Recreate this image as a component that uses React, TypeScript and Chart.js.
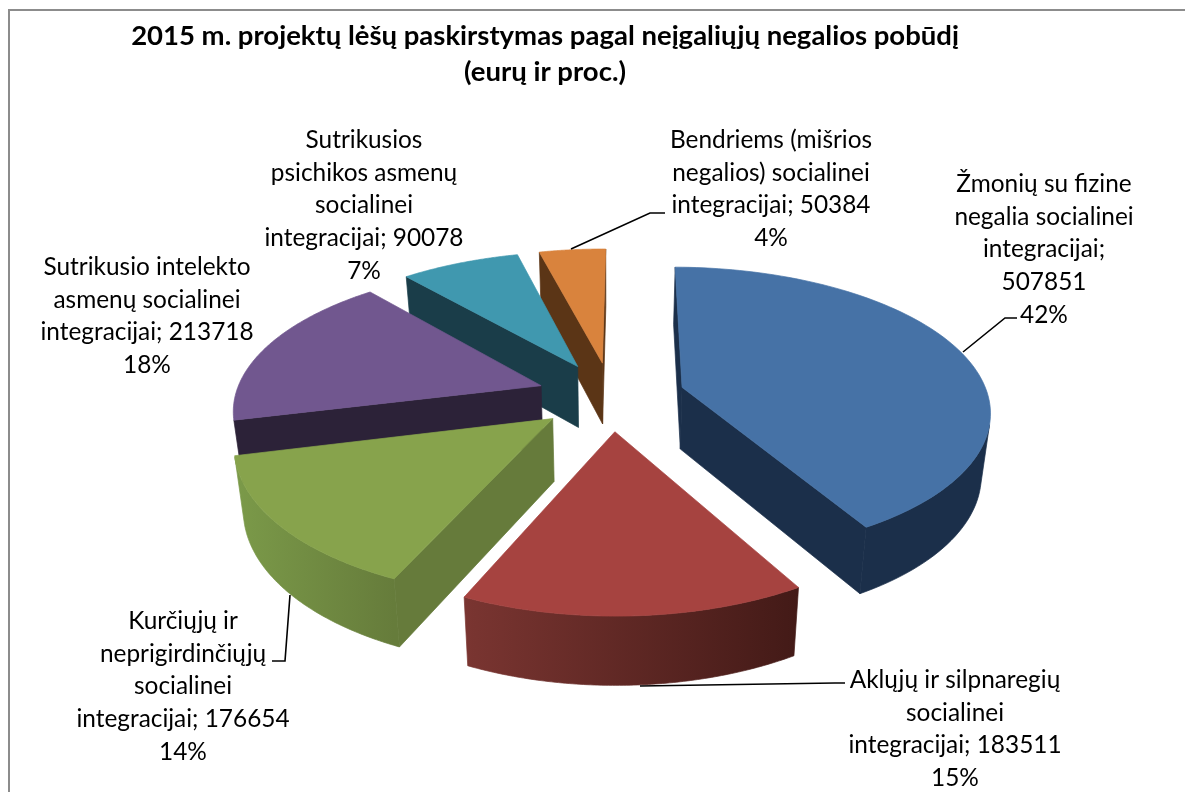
import React, { useEffect, useRef } from "react";
import { Chart, registerables } from "chart.js";

Chart.register(...registerables);

const categories = [
  "Žmonių su fizine negalia socialinei integracijai",
  "Aklųjų ir silpnaregių socialinei integracijai",
  "Kurčiųjų ir neprigirdinčiųjų socialinei integracijai",
  "Sutrikusio intelekto asmenų socialinei integracijai",
  "Sutrikusios psichikos asmenų socialinei integracijai",
  "Bendriems (mišrios negalios) socialinei integracijai",
];
const values = [507851, 183511, 176654, 213718, 90078, 50384];
const percents = ["42%", "15%", "14%", "18%", "7%", "4%"];
const titleLines = ["2015 m. projektų lėšų paskirstymas pagal neįgaliųjų negalios pobūdį", "(eurų ir proc.)"];
const labelLines = [
  ["Žmonių su fizine", "negalia socialinei", "integracijai;", "507851", "42%"],
  ["Aklųjų ir silpnaregių", "socialinei", "integracijai; 183511", "15%"],
  ["Kurčiųjų ir", "neprigirdinčiųjų", "socialinei", "integracijai; 176654", "14%"],
  ["Sutrikusio intelekto", "asmenų socialinei", "integracijai; 213718", "18%"],
  ["Sutrikusios", "psichikos asmenų", "socialinei", "integracijai; 90078", "7%"],
  ["Bendriems (mišrios", "negalios) socialinei", "integracijai; 50384", "4%"],
];
const topColors = ["#4672a6", "#a64340", "#87a34c", "#71578f", "#4098af", "#d9833d"];
const sideStart = ["#1b2f4a", "#431a17", "#667c3b", "#2c2238", "#1a3d49", "#5b3516"];
const sideEnd = ["#1b2f4a", "#7a3531", "#7b9a49", "#2c2238", "#1a3d49", "#5b3516"];
const wallColors = ["#1b2f4a", "#431a17", "#667b3b", "#2c2238", "#1a3d49", "#5b3516"];

const labelPos = [
  { x: 1044, y: 184 },
  { x: 955, y: 680 },
  { x: 183, y: 621 },
  { x: 147, y: 267 },
  { x: 364, y: 140 },
  { x: 771, y: 140 },
];
const leaders: ([number, number][] | null)[] = [
  [[963, 352], [1005, 318], [1017, 318]],
  [[640, 686], [835, 683], [845, 683]],
  [[290, 595], [285, 661], [272, 661]],
  null,
  null,
  [[571, 249], [650, 213], [665, 213]],
];

const VIEW = { cx: 611, cy: 396, rx: 306, ry: 142, px: 0.15, py: 0.16, depth: 62, q: 0.025 };
const LINE_H = 32.7;
const LABEL_FONT = "24.4px Lato";

function project(U: number, V: number, z: number): [number, number] {
  const wx = 1 - VIEW.px * V;
  const wy = 1 - VIEW.py * V;
  return [
    VIEW.cx + (VIEW.rx * U) / wx / (1 + VIEW.q * z),
    VIEW.cy + (VIEW.ry * V) / wy + (VIEW.depth * z) / Math.sqrt(wy),
  ];
}

function area(pts: [number, number][]) {
  let s = 0;
  pts.forEach((p, i) => {
    const n = pts[(i + 1) % pts.length];
    s += p[0] * n[1] - n[0] * p[1];
  });
  return s;
}

function fillPoly(ctx: CanvasRenderingContext2D, pts: [number, number][], color: any) {
  ctx.beginPath();
  pts.forEach((p, i) => (i ? ctx.lineTo(p[0], p[1]) : ctx.moveTo(p[0], p[1])));
  ctx.closePath();
  ctx.fillStyle = color;
  ctx.strokeStyle = color;
  ctx.lineWidth = 0.7;
  ctx.fill();
  ctx.stroke();
}

const pie3d = {
  id: "pie3d",
  beforeDraw(chart: any) {
    const { ctx, width, height } = chart;
    ctx.save();
    ctx.fillStyle = "#ffffff";
    ctx.fillRect(0, 0, width, height);
    ctx.strokeStyle = "#8c8c8c";
    ctx.lineWidth = 2;
    ctx.beginPath();
    ctx.moveTo(9, height + 5);
    ctx.lineTo(9, 10);
    ctx.lineTo(width + 5, 10);
    ctx.stroke();
    ctx.restore();
  },
  beforeDatasetDraw(chart: any, args: any) {
    const ctx: CanvasRenderingContext2D = chart.ctx;
    const arcs: any[] = args.meta.data;
    const order = arcs
      .map((el, i) => ({ el, i, mid: (el.startAngle + el.endAngle) / 2 }))
      .sort((a, b) => Math.sin(a.mid) - Math.sin(b.mid));
    ctx.save();
    for (const { el, i, mid } of order) {
      const e = el.options.offset / el.outerRadius;
      const U0 = e * Math.cos(mid);
      const V0 = e * Math.sin(mid);
      const n = 96;
      const rim = (k: number) => {
        const a = el.startAngle + ((el.endAngle - el.startAngle) * k) / n;
        return [U0 + Math.cos(a), V0 + Math.sin(a)];
      };
      const start = rim(0);
      const end = rim(n);
      const wallA: [number, number][] = [project(U0, V0, 0), project(start[0], start[1], 0), project(start[0], start[1], 1), project(U0, V0, 1)];
      const wallB: [number, number][] = [project(end[0], end[1], 0), project(U0, V0, 0), project(U0, V0, 1), project(end[0], end[1], 1)];
      if (area(wallA) < 0) fillPoly(ctx, wallA, wallColors[i]);
      if (area(wallB) < 0) fillPoly(ctx, wallB, wallColors[i]);

      // the outer wall: one polygon over the facing part of the rim, shaded across its width
      const upper: [number, number][] = [];
      const lower: [number, number][] = [];
      for (let k = 0; k < n; k++) {
        const a = rim(k);
        const b = rim(k + 1);
        const quad: [number, number][] = [project(a[0], a[1], 0), project(b[0], b[1], 0), project(b[0], b[1], 1), project(a[0], a[1], 1)];
        if (area(quad) < 0) {
          if (!upper.length) {
            upper.push(quad[0]);
            lower.push(quad[3]);
          }
          upper.push(quad[1]);
          lower.push(quad[2]);
        }
      }
      if (upper.length) {
        const first = upper[0];
        const last = upper[upper.length - 1];
        const grad = ctx.createLinearGradient(first[0], 0, last[0], 0);
        grad.addColorStop(0, sideStart[i]);
        grad.addColorStop(1, sideEnd[i]);
        fillPoly(ctx, [...upper, ...lower.reverse()], grad);
      }

      const top: [number, number][] = [project(U0, V0, 0)];
      for (let k = 0; k <= n; k++) {
        const a = rim(k);
        top.push(project(a[0], a[1], 0));
      }
      fillPoly(ctx, top, el.options.backgroundColor);
    }
    ctx.restore();
    return false;
  },
  afterDraw(chart: any) {
    const ctx: CanvasRenderingContext2D = chart.ctx;
    ctx.save();
    ctx.strokeStyle = "#000000";
    ctx.lineWidth = 1.6;
    leaders.forEach((pts) => {
      if (!pts) return;
      ctx.beginPath();
      pts.forEach((p, i) => (i ? ctx.lineTo(p[0], p[1]) : ctx.moveTo(p[0], p[1])));
      ctx.stroke();
    });
    ctx.fillStyle = "#000000";
    ctx.font = LABEL_FONT;
    ctx.textAlign = "center";
    ctx.textBaseline = "middle";
    labelLines.forEach((lines, i) => {
      lines.forEach((t, j) => ctx.fillText(t, labelPos[i].x, labelPos[i].y + j * LINE_H));
    });
    ctx.restore();
  },
};

export default function App() {
  const ref = useRef<HTMLCanvasElement>(null);
  useEffect(() => {
    const chart = new Chart(ref.current!, {
      type: "pie",
      data: {
        labels: categories.map((c, i) => `${c}; ${values[i]} ${percents[i]}`),
        datasets: [
          {
            data: values,
            backgroundColor: topColors,
            borderWidth: 0,
            offset: 75,
          },
        ],
      },
      options: {
        responsive: false,
        animation: false,
        rotation: 0.5,
        layout: { padding: { top: 0, right: 95, left: 0, bottom: 0 } },
        plugins: {
          legend: { display: false },
          tooltip: { enabled: false },
          title: {
            display: true,
            text: titleLines,
            color: "#000000",
            font: { family: "Lato", size: 27.5, weight: "bold", lineHeight: 1.31 },
            padding: { top: 18, bottom: 8 },
          },
        },
      },
      plugins: [pie3d],
    } as any);
    return () => chart.destroy();
  }, []);
  return (
    <canvas
      ref={ref}
      width={1185}
      height={792}
      style={{ position: "absolute", left: 0, top: 0, display: "block", width: 1185, height: 792 }}
    />
  );
}
